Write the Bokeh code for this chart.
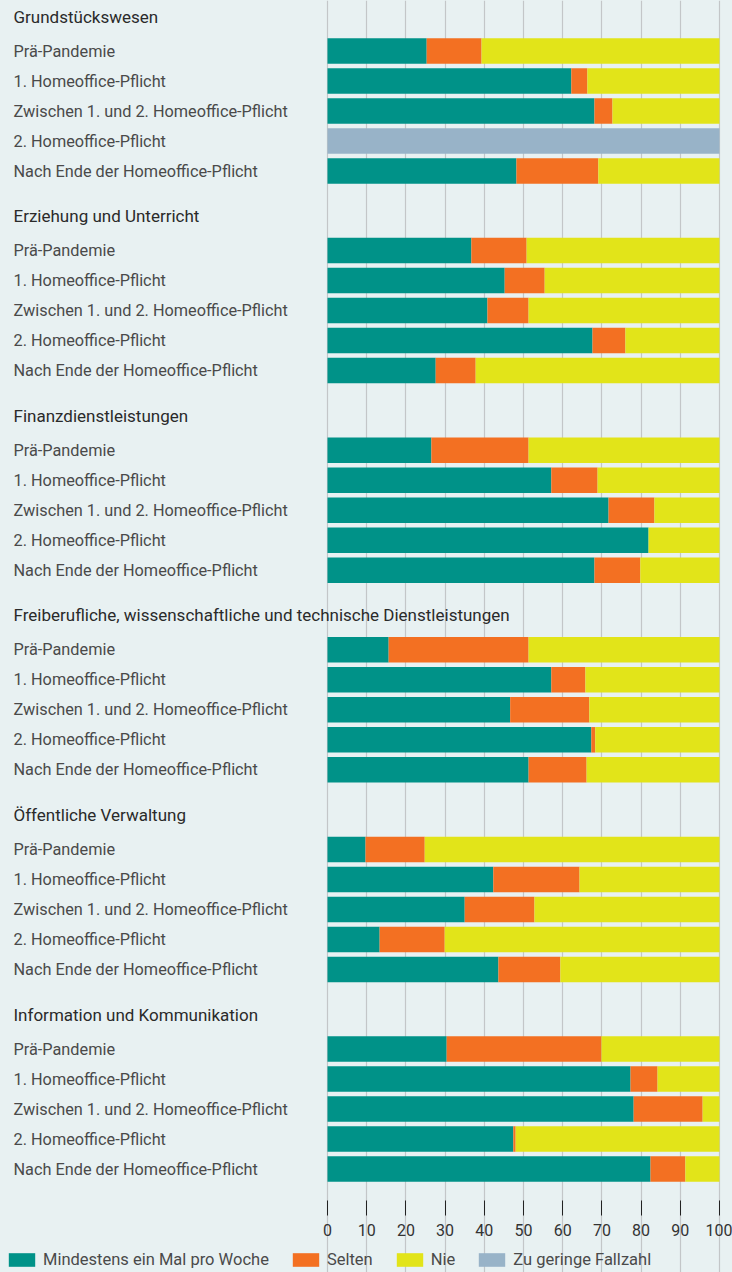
from bokeh.plotting import figure
from bokeh.models import ColumnDataSource, Range1d, FixedTicker, Legend, LegendItem
from bokeh.embed import file_html
from bokeh.resources import INLINE
from bokeh.core.properties import value

# ---------------- data ----------------
sections = [
    "Grundstückswesen",
    "Erziehung und Unterricht",
    "Finanzdienstleistungen",
    "Freiberufliche, wissenschaftliche und technische Dienstleistungen",
    "Öffentliche Verwaltung",
    "Information und Kommunikation",
]
phases = [
    "Prä-Pandemie",
    "1. Homeoffice-Pflicht",
    "Zwischen 1. und 2. Homeoffice-Pflicht",
    "2. Homeoffice-Pflicht",
    "Nach Ende der Homeoffice-Pflicht",
]
series_labels = ["Mindestens ein Mal pro Woche", "Selten", "Nie", "Zu geringe Fallzahl"]

# one row of five values (phases) per section
weekly = [
    [25.3, 62.2, 68.1, 0.0, 48.2],
    [36.7, 45.2, 40.8, 67.6, 27.6],
    [26.5, 57.1, 71.7, 81.9, 68.1],
    [15.6, 57.1, 46.6, 67.3, 51.3],
    [9.7, 42.3, 35.0, 13.3, 43.6],
    [30.4, 77.3, 78.1, 47.4, 82.4],
]
rarely = [
    [14.0, 4.1, 4.6, 0.0, 20.9],
    [14.1, 10.2, 10.5, 8.4, 10.2],
    [24.8, 11.8, 11.7, 0.0, 11.7],
    [35.7, 8.7, 20.2, 1.0, 14.8],
    [15.1, 22.0, 17.8, 16.6, 15.8],
    [39.5, 6.9, 17.6, 0.6, 8.9],
]
never = [
    [60.7, 33.7, 27.3, 0.0, 30.9],
    [49.2, 44.6, 48.7, 24.0, 62.2],
    [48.7, 31.1, 16.6, 18.1, 20.2],
    [48.7, 34.2, 33.2, 31.7, 33.9],
    [75.2, 35.7, 47.2, 70.1, 40.6],
    [30.1, 15.8, 4.3, 52.0, 8.7],
]
too_few = [
    [0.0, 0.0, 0.0, 100.0, 0.0],
    [0.0, 0.0, 0.0, 0.0, 0.0],
    [0.0, 0.0, 0.0, 0.0, 0.0],
    [0.0, 0.0, 0.0, 0.0, 0.0],
    [0.0, 0.0, 0.0, 0.0, 0.0],
    [0.0, 0.0, 0.0, 0.0, 0.0],
]
x_ticks = [0, 10, 20, 30, 40, 50, 60, 70, 80, 90, 100]

# ---------------- layout / style ----------------
BG = "#e8f1f2"
COLORS = ["#009288", "#f37022", "#e2e419", "#98b3c8"]
FRAME_W, FRAME_H = 732, 1272
AXIS_Y = 1200
X0_PX, PX_PER_UNIT = 327, 3.92
FIRST_ROW, SECTION_STEP, ROW_STEP = 50.5, 199.6, 30.0
HEAD_OFFSET = -34.5
FONT = value("Roboto")

x_start = -X0_PX / PX_PER_UNIT
x_end = (FRAME_W - X0_PX) / PX_PER_UNIT

ys, labels, w, r, n, t = [], [], [], [], [], []
head_y = []
for s in range(len(sections)):
    base = FIRST_ROW + s * SECTION_STEP
    head_y.append(base + HEAD_OFFSET)
    for k in range(len(phases)):
        ys.append(base + k * ROW_STEP)
        labels.append(phases[k])
        w.append(weekly[s][k])
        r.append(rarely[s][k])
        n.append(never[s][k])
        t.append(too_few[s][k])

src = ColumnDataSource(dict(y=ys, label=labels, weekly=w, rarely=r, never=n, too_few=t,
                            lx=[x_start] * len(ys)))
head_src = ColumnDataSource(dict(y=head_y, text=sections, x=[x_start] * len(sections)))

p = figure(frame_width=FRAME_W, frame_height=FRAME_H,
           x_range=Range1d(x_start, x_end), y_range=Range1d(FRAME_H, 0),
           output_backend="svg", toolbar_location=None, min_border=0,
           background_fill_color=BG, border_fill_color=BG, outline_line_color=None,
           y_axis_location=None)

renderers = p.hbar_stack(["weekly", "rarely", "never", "too_few"], y="y", height=25.5,
                         fill_color=COLORS, line_color=None, source=src)

p.text(x="lx", y="y", text="label", source=src, x_offset=13, y_offset=0,
       text_baseline="middle", text_align="left", text_font=FONT,
       text_font_size="16.3px", text_color="#4a4a4a")
p.text(x="x", y="y", text="text", source=head_src, x_offset=13,
       text_baseline="middle", text_align="left", text_font=FONT,
       text_font_size="17px", text_color="#2a2a2a")

ticker = FixedTicker(ticks=x_ticks)
p.xaxis.ticker = ticker
p.xaxis.fixed_location = AXIS_Y
p.xaxis.axis_line_color = None
p.xaxis.major_tick_in = 0
p.xaxis.major_tick_out = 15
p.xaxis.major_tick_line_color = "#222222"
p.xaxis.minor_tick_line_color = None
p.xaxis.major_label_standoff = 8
p.xaxis.major_label_text_font = "Roboto"
p.xaxis.major_label_text_font_size = "16px"
p.xaxis.major_label_text_color = "#333333"

p.xgrid.ticker = ticker
p.xgrid.grid_line_color = "#c3c6c8"
p.xgrid.grid_line_width = 1.2
p.xgrid.bounds = (20, 1193)
p.ygrid.grid_line_color = None

legend = Legend(items=[LegendItem(label=series_labels[i], renderers=[renderers[i]])
                       for i in range(4)],
                orientation="horizontal", location=(5, 3),
                glyph_width=33, glyph_height=17, label_standoff=5, spacing=20,
                padding=0, margin=0, background_fill_alpha=0, border_line_color=None,
                label_height=16,
                label_text_font="Roboto", label_text_font_size="16.5px",
                label_text_color="#4a4a4a")
p.add_layout(legend, "center")

html = file_html(p, INLINE, title="Homeoffice")
html = html.replace("</head>",
                    "<style>html,body{margin:0;padding:0;background:%s;overflow:hidden;}</style>\n</head>" % BG, 1)
open("out.html", "w").write(html)
